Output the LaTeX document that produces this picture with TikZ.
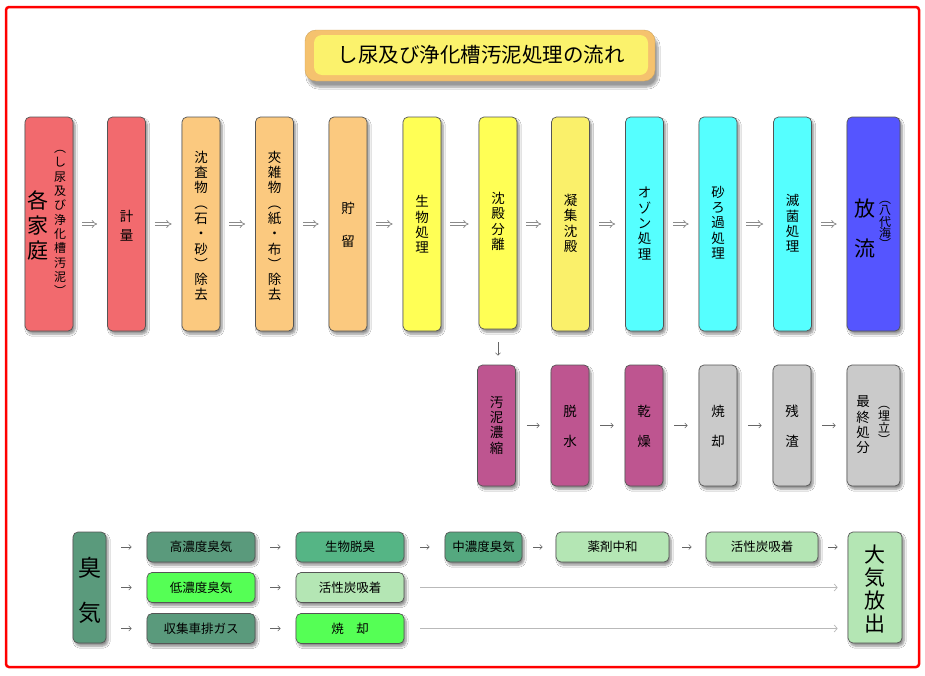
\documentclass[tikz,border=0pt]{standalone}
\usepackage{fontspec}
\setmainfont{Noto Sans CJK JP}
\usetikzlibrary{arrows.meta,shadows,shadows.blur}
\definecolor{cRed}{HTML}{F26A6E}
\definecolor{cOra}{HTML}{FBC97F}
\definecolor{cYel}{HTML}{FFFF55}
\definecolor{cYelB}{HTML}{FAF06A}
\definecolor{cCya}{HTML}{55FFFF}
\definecolor{cBlu}{HTML}{5555FF}
\definecolor{cMag}{HTML}{BE5590}
\definecolor{cGry}{HTML}{CACACA}
\definecolor{gDk}{HTML}{5A9A7C}
\definecolor{gMd}{HTML}{55B585}
\definecolor{gMe}{HTML}{55A87F}
\definecolor{gBr}{HTML}{55FF55}
\definecolor{gLt}{HTML}{B4E6B4}
\definecolor{tOra}{HTML}{F5C26E}
\definecolor{tYel}{HTML}{FBF26C}
\definecolor{lineGry}{HTML}{555555}
\definecolor{arrGry}{HTML}{8A8A8A}
\tikzset{
  box/.style={draw=lineGry, line width=0.7pt, rounded corners=5pt, inner sep=0pt,
    blur shadow={shadow xshift=2pt, shadow yshift=-3pt, shadow blur steps=6, shadow opacity=45}},
  tall/.style={box, minimum width=38pt, minimum height=214pt},
  mid/.style={box, minimum width=38pt, minimum height=121pt},
  flat/.style={box, minimum height=30pt, font=\fontsize{12.5pt}{14pt}\selectfont},
  vt/.style={align=center, inner sep=0pt, font=\fontsize{13.5pt}{15.3pt}\selectfont},
  vtsmall/.style={align=center, inner sep=0pt, font=\fontsize{12pt}{14.3pt}\selectfont},
  dblarr/.style={draw=arrGry, double=white, double distance=2pt, line width=0.75pt,
    -{Implies[length=4.5pt]}, shorten <=9pt, shorten >=10pt},
  arr/.style={draw=gray!80!black, line width=0.6pt, -{Straight Barb[length=2.5pt,width=5pt]}},
  longarr/.style={draw=gray!55, line width=1.1pt, -{Straight Barb[length=3pt,width=7pt,line width=0.7pt]}, shorten <=16pt, shorten >=10pt}
}
\begin{document}
\begin{tikzpicture}[x=1pt,y=-1pt]
\useasboundingbox (0,0) rectangle (925,675);
\fill[white] (0,0) rectangle (925,675);
\draw[red, line width=2.5pt, rounded corners=3pt] (6,7) rectangle (919,667);

% title
\node[fill=tOra, draw=tOra!85!black, line width=0.4pt, rounded corners=11pt, minimum width=350pt, minimum height=51pt,
  blur shadow={shadow xshift=3pt, shadow yshift=-6pt, shadow blur steps=8, shadow opacity=40}] (titleouter) at (480,55.5) {};
\node[fill=tYel, rounded corners=8pt, minimum width=334pt, minimum height=40pt, inner sep=0pt,
  font=\fontsize{20.5pt}{22pt}\selectfont] (title) at (481,55) {し尿及び浄化槽汚泥処理の流れ};

% top row
\node[box, fill=cRed, minimum width=48pt, minimum height=214pt] (home) at (49,224) {};
\node[align=center, inner sep=0pt, font=\fontsize{21pt}{25pt}\selectfont] (homeA) at (38,225) {各\\家\\庭};
\node[vtsmall] (homeB) at (60,223) {︵\\し\\尿\\及\\び\\浄\\化\\槽\\汚\\泥\\︶};
\node[tall, fill=cRed] (keiryo) at (126.5,224) {};
\node[align=center, inner sep=0pt, font=\fontsize{13.5pt}{19pt}\selectfont] (keiryoT) at (126.5,226) {計\\量};
\node[tall, fill=cOra] (chinsa) at (201,224) {};
\node[vt] (chinsaT) at (201,226) {沈\\査\\物\\︵\\石\\・\\砂\\︶\\除\\去};
\node[tall, fill=cOra] (kyozatsu) at (274.5,224) {};
\node[vt] (kyozatsuT) at (274.5,226) {夾\\雑\\物\\︵\\紙\\・\\布\\︶\\除\\去};
\node[tall, fill=cOra] (choryu) at (348,224) {};
\node[align=center, inner sep=0pt, font=\fontsize{13.5pt}{33pt}\selectfont] (choryuT) at (348,224.5) {貯\\留};
\node[tall, fill=cYel] (seibutsu) at (422,224) {};
\node[vt] (seibutsuT) at (422,224.5) {生\\物\\処\\理};
\node[box, fill=cYel, minimum width=38pt, minimum height=212pt] (sep) at (498,223) {};
\node[vt] (sepT) at (498,221.5) {沈\\殿\\分\\離};
\node[tall, fill=cYelB] (gyoshu) at (570.5,224) {};
\node[vt] (gyoshuT) at (570.5,223.5) {凝\\集\\沈\\殿};
\node[tall, fill=cCya] (ozone) at (644.5,224) {};
\node[vt] (ozoneT) at (644.5,223.5) {オ\\ゾ\\ン\\処\\理};
\node[tall, fill=cCya] (sand) at (718,224) {};
\node[vt] (sandT) at (718,222.5) {砂\\ろ\\過\\処\\理};
\node[tall, fill=cCya] (mekkin) at (792.5,224) {};
\node[vt] (mekkinT) at (792.5,223.5) {滅\\菌\\処\\理};
\node[box, fill=cBlu, minimum width=53pt, minimum height=214pt] (houryu) at (873.5,224) {};
\node[align=center, inner sep=0pt, font=\fontsize{21pt}{40pt}\selectfont] (houryuA) at (865,228) {放\\流};
\node[align=center, inner sep=0pt, font=\fontsize{12pt}{11.3pt}\selectfont] (houryuB) at (885,225) {︵\\八\\代\\海\\︶};

\draw[dblarr] (home.east) -- (keiryo.west);
\draw[dblarr] (keiryo.east) -- (chinsa.west);
\draw[dblarr] (chinsa.east) -- (kyozatsu.west);
\draw[dblarr] (kyozatsu.east) -- (choryu.west);
\draw[dblarr] (choryu.east) -- (seibutsu.west);
\draw[dblarr] (seibutsu.east) -- (seibutsu.east -| sep.west);
\draw[dblarr] (sep.east |- gyoshu.west) -- (gyoshu.west);
\draw[dblarr] (gyoshu.east) -- (ozone.west);
\draw[dblarr] (ozone.east) -- (sand.west);
\draw[dblarr] (sand.east) -- (mekkin.west);
\draw[dblarr] (mekkin.east) -- (houryu.west);

% second row
\node[mid, fill=cMag] (noshuku) at (496.5,425.5) {};
\node[vt] (noshukuT) at (496.5,425) {汚\\泥\\濃\\縮};
\node[mid, fill=cMag] (dassui) at (570,425.5) {};
\node[align=center, inner sep=0pt, font=\fontsize{13.5pt}{30pt}\selectfont] (dassuiT) at (570,426) {脱\\水};
\node[mid, fill=cMag] (kanso) at (644,425.5) {};
\node[align=center, inner sep=0pt, font=\fontsize{13.5pt}{30pt}\selectfont] (kansoT) at (644,426) {乾\\燥};
\node[mid, fill=cGry] (shokyaku) at (718,425.5) {};
\node[align=center, inner sep=0pt, font=\fontsize{13.5pt}{30pt}\selectfont] (shokyakuT) at (718,426) {焼\\却};
\node[mid, fill=cGry] (zansa) at (792,425.5) {};
\node[align=center, inner sep=0pt, font=\fontsize{13.5pt}{30pt}\selectfont] (zansaT) at (792,426) {残\\渣};
\node[box, fill=cGry, minimum width=53pt, minimum height=121pt] (saishu) at (873.5,425.5) {};
\node[vt] (saishuA) at (863,425) {最\\終\\処\\分};
\node[align=center, inner sep=0pt, font=\fontsize{12pt}{12pt}\selectfont] (saishuB) at (884,425) {︵\\埋\\立\\︶};

\draw[arr, shorten <=13pt, shorten >=9pt] (sep.south) -- (sep.south |- noshuku.north);
\draw[arr, shorten <=11pt, shorten >=11pt] (noshuku.east) -- (dassui.west);
\draw[arr, shorten <=11pt, shorten >=11pt] (dassui.east) -- (kanso.west);
\draw[arr, shorten <=11pt, shorten >=11pt] (kanso.east) -- (shokyaku.west);
\draw[arr, shorten <=11pt, shorten >=11pt] (shokyaku.east) -- (zansa.west);
\draw[arr, shorten <=11pt, shorten >=11pt] (zansa.east) -- (saishu.west);

% odor section
\node[box, fill=gDk, minimum width=33pt, minimum height=111pt] (odor) at (89.5,587.5) {};
\node[align=center, inner sep=0pt, font=\fontsize{23pt}{45pt}\selectfont] (odorT) at (89.5,590) {臭\\気};
\node[flat, fill=gDk, minimum width=108pt] (high) at (201,547) {高濃度臭気};
\node[flat, fill=gBr, minimum width=108pt] (low) at (201,587.5) {低濃度臭気};
\node[flat, fill=gDk, minimum width=108pt] (truck) at (201,628.5) {収集車排ガス};
\node[flat, fill=gMd, minimum width=108pt] (bio) at (350,547) {生物脱臭};
\node[flat, fill=gLt, minimum width=108pt] (carbonB) at (350,587.5) {活性炭吸着};
\node[flat, fill=gBr, minimum width=108pt] (burn) at (350,628.5) {焼\hspace{1em}却};
\node[flat, fill=gMe, minimum width=77pt] (medium) at (483.5,547) {中濃度臭気};
\node[flat, fill=gLt, minimum width=113pt] (neutral) at (612.5,547) {薬剤中和};
\node[flat, fill=gLt, minimum width=112pt] (carbonA) at (762,547) {活性炭吸着};
\node[box, fill=gLt, minimum width=54pt, minimum height=111pt] (air) at (875,587.5) {};
\node[align=center, inner sep=0pt, font=\fontsize{21pt}{23pt}\selectfont] (airT) at (875,589) {大\\気\\放\\出};

\draw[arr, shorten <=15pt, shorten >=15pt] (odor.east |- high.west) -- (high.west);
\draw[arr, shorten <=15pt, shorten >=15pt] (odor.east |- low.west) -- (low.west);
\draw[arr, shorten <=15pt, shorten >=15pt] (odor.east |- truck.west) -- (truck.west);
\draw[arr, shorten <=15pt, shorten >=15pt] (high.east) -- (bio.west);
\draw[arr, shorten <=15pt, shorten >=15pt] (low.east) -- (carbonB.west);
\draw[arr, shorten <=15pt, shorten >=15pt] (truck.east) -- (burn.west);
\draw[arr, shorten <=16pt, shorten >=15pt] (bio.east) -- (medium.west);
\draw[arr, shorten <=11pt, shorten >=13pt] (medium.east) -- (neutral.west);
\draw[arr, shorten <=13pt, shorten >=14pt] (neutral.east) -- (carbonA.west);
\draw[arr, shorten <=10pt, shorten >=10pt] (carbonA.east) -- (carbonA.east -| air.west);
\draw[longarr] (carbonB.east) -- (carbonB.east -| air.west);
\draw[longarr] (burn.east) -- (burn.east -| air.west);
\end{tikzpicture}
\end{document}
